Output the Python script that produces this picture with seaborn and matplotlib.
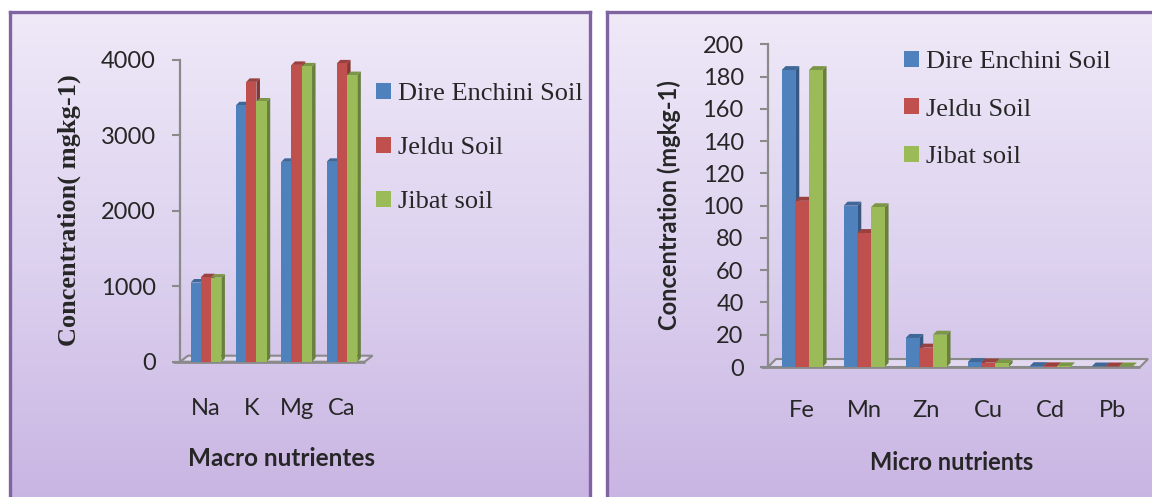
import numpy as np
import pandas as pd
import matplotlib
matplotlib.use("Agg")
import matplotlib.pyplot as plt
import seaborn as sns
from matplotlib.patches import Polygon, Patch
from matplotlib.colors import to_rgb, LinearSegmentedColormap

# ---- data -------------------------------------------------------------
soils = ["Dire Enchini Soil", "Jeldu Soil", "Jibat soil"]

macro_elements = ["Na", "K", "Mg", "Ca"]
macro_dire = [1050, 3400, 2650, 2650]
macro_jeldu = [1120, 3710, 3935, 3955]
macro_jibat = [1115, 3450, 3915, 3800]
macro_ticks = [0, 1000, 2000, 3000, 4000]

micro_elements = ["Fe", "Mn", "Zn", "Cu", "Cd", "Pb"]
micro_dire = [184, 100, 18, 3.0, 0.5, 0.3]
micro_jeldu = [103, 83, 12, 2.7, 0.4, 0.3]
micro_jibat = [184, 99, 20, 2.2, 0.4, 0.3]
micro_ticks = [0, 20, 40, 60, 80, 100, 120, 140, 160, 180, 200]

soil_colors = ["#4F81BD", "#C0504D", "#9BBB59"]

# ---- figure -----------------------------------------------------------
W, H = 1152, 497
sns.set_theme(style="white")
plt.rcParams["font.family"] = ["Lato", "DejaVu Sans"]
fig = plt.figure(figsize=(W / 100, H / 100), dpi=100)


def fx(px):
    return px / W


def fy(py):
    return 1 - py / H


AXIS_GREY = "#8A8A8A"
BORDER = "#8064A2"


def panel(x0, x1, top):
    """Gradient card with a purple frame behind each chart."""
    bg = fig.add_axes([fx(x0), -0.02, fx(x1 - x0), fy(top) + 0.02], zorder=0)
    grad = np.linspace(0, 1, 256).reshape(-1, 1)
    cmap = LinearSegmentedColormap.from_list("card", ["#EFE9F8", "#DDD2EF", "#C8B4E2"])
    bg.imshow(grad, aspect="auto", cmap=cmap, extent=[0, 1, 0, 1], origin="upper")
    bg.set_xticks([])
    bg.set_yticks([])
    for side in ["top", "left", "right"]:
        bg.spines[side].set_color(BORDER)
        bg.spines[side].set_linewidth(2.4)
    bg.spines["bottom"].set_visible(False)
    return bg


def darker(c, f):
    r, g, b = to_rgb(c)
    return (r * f, g * f, b * f)


def bar_chart(rect, elements, series, ticks, xlim, width, depth_px, floor_px, xpad):
    ax = fig.add_axes(rect, zorder=2)
    ax.patch.set_alpha(0)
    df = pd.DataFrame({
        "element": np.tile(elements, len(soils)),
        "soil": np.repeat(soils, len(elements)),
        "value": np.concatenate(series),
    })
    sns.barplot(data=df, x="element", y="value", hue="soil", hue_order=soils,
                palette=soil_colors, saturation=1, width=width, gap=0,
                linewidth=0, legend=False, ax=ax)
    ax.set_xlim(*xlim)
    ax.set_ylim(ticks[0], ticks[-1])

    # pixel -> data conversion for the depth offsets
    bb = ax.get_window_extent()
    ux = (xlim[1] - xlim[0]) / bb.width
    uy = (ticks[-1] - ticks[0]) / bb.height

    # pseudo-3D side and top faces on every bar
    ddx, ddy = depth_px * ux, depth_px * uy
    n = len(elements)
    bars = [p for p in ax.patches]
    for i, p in enumerate(bars):
        k = i // n
        x, w, h = p.get_x(), p.get_width(), p.get_height()
        col = soil_colors[k]
        p.set_zorder(4 + 2 * k)
        side = Polygon([(x + w, 0), (x + w + ddx, ddy), (x + w + ddx, h + ddy), (x + w, h)],
                       closed=True, facecolor=darker(col, 0.68), edgecolor="none",
                       zorder=3 + 2 * k, clip_on=False)
        topf = Polygon([(x, h), (x + ddx, h + ddy), (x + w + ddx, h + ddy), (x + w, h)],
                       closed=True, facecolor=darker(col, 0.8), edgecolor="none",
                       zorder=3 + 2 * k, clip_on=False)
        ax.add_patch(side)
        ax.add_patch(topf)

    # floor plate
    fdx, fdy = floor_px[0] * ux, floor_px[1] * uy
    x0, x1 = xlim
    floor = Polygon([(x0, 0), (x1, 0), (x1 + fdx, fdy), (x0 + fdx, fdy)], closed=True,
                    facecolor=(1, 1, 1, 0.35), edgecolor=AXIS_GREY, linewidth=1.5,
                    zorder=1, clip_on=False)
    ax.add_patch(floor)
    ax.plot([x0 - 7 * ux, x1], [0, 0], color=AXIS_GREY, lw=2, zorder=2,
            clip_on=False, solid_capstyle="butt")

    for s in ["top", "right", "bottom"]:
        ax.spines[s].set_visible(False)
    ax.spines["left"].set_color(AXIS_GREY)
    ax.spines["left"].set_linewidth(1.6)
    ax.set_yticks(ticks)
    ax.set_yticklabels([str(t) for t in ticks])
    ax.tick_params(axis="y", which="major", direction="out", length=5.5, width=1.5,
                   color=AXIS_GREY, labelsize=17, pad=12, left=True)
    ax.tick_params(axis="x", length=0, labelsize=17, pad=xpad)
    ax.set_xlabel("")
    ax.set_ylabel("")
    ax.grid(False)
    return ax


def legend(ax, x, y, spacing):
    handles = [Patch(facecolor=c, edgecolor="none") for c in soil_colors]
    ax.legend(handles=handles, labels=soils, loc="upper left",
              bbox_to_anchor=(fx(x), fy(y)), bbox_transform=fig.transFigure,
              frameon=False, prop={"family": "Liberation Serif", "size": 19},
              handlelength=0.55, handleheight=0.55, handletextpad=0.3,
              labelspacing=spacing, borderpad=0, borderaxespad=0)


# left card: macro nutrients
panel(9.5, 589.5, 11.5)
axL = bar_chart([fx(180), fy(361.7), fx(364.6 - 180), (361.7 - 60) / H],
                macro_elements, [macro_dire, macro_jeldu, macro_jibat], macro_ticks,
                (-0.574, 3.5), 0.68, 3.5, (8, 6), 26)
legend(axL, 376, 83, 1.2)
fig.text(fx(69), fy(210), "Concentration( mgkg-1)", rotation=90, ha="center",
         va="center", family="Liberation Serif", weight="bold", size=19)
fig.text(fx(282), fy(458), "Macro nutrientes", ha="center", va="center",
         weight="bold", size=17.5)

# right card: micro nutrients
panel(606.5, 1170, 11.5)
axR = bar_chart([fx(768), fy(367), fx(1140 - 768), (367 - 44.3) / H],
                micro_elements, [micro_dire, micro_jeldu, micro_jibat], micro_ticks,
                (-0.55, 5.45), 0.66, 4, (8, 8), 24)
legend(axR, 904, 51, 0.95)
fig.text(fx(669), fy(205), "Concentration (mgkg-1)", rotation=90, ha="center",
         va="center", weight="bold", size=17)
fig.text(fx(952), fy(462), "Micro nutrients", ha="center", va="center",
         weight="bold", size=17)

fig.savefig("out.png", dpi=100)
